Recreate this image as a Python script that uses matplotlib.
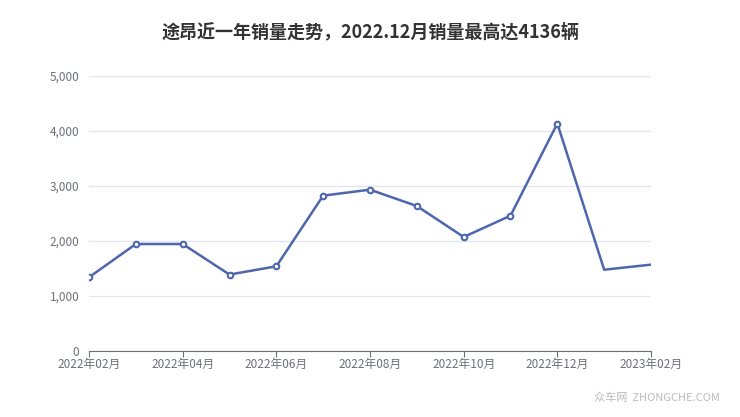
import matplotlib
matplotlib.use('Agg')
import matplotlib.pyplot as plt

plt.rcParams['font.family'] = ['Noto Sans CJK SC', 'DejaVu Sans']

months = ['2022年02月', '2022年03月', '2022年04月', '2022年05月', '2022年06月',
          '2022年07月', '2022年08月', '2022年09月', '2022年10月', '2022年11月',
          '2022年12月', '2023年01月', '2023年02月']
sales = [1340, 1945, 1945, 1390, 1540, 2825, 2933, 2636, 2073, 2460, 4136, 1478, 1570]
title = '途昂近一年销量走势，2022.12月销量最高达4136辆'

fig = plt.figure(figsize=(7.4, 4.17), dpi=100)
ax = fig.add_axes([89/740, 66/417, 562/740, 275/417])

x = list(range(len(months)))
ax.plot(x, sales, color='#4e66ad', lw=1.8, marker='o', ms=4,
        mfc='white', mec='#4e66ad', mew=1.5, markevery=list(range(11)),
        zorder=3)

ax.set_ylim(0, 5000)
ax.set_yticks(range(0, 5001, 1000))
ax.yaxis.set_major_formatter(matplotlib.ticker.FuncFormatter(lambda v, p: f'{int(v):,}'))
ax.set_xlim(x[0], x[-1])
ax.set_xticks(x[::2])
ax.set_xticklabels(months[::2])

ax.grid(axis='y', color='#e0e6f1', lw=0.9)
ax.set_axisbelow(True)
for s in ['top', 'right', 'left']:
    ax.spines[s].set_visible(False)
ax.spines['bottom'].set_color('#6e7079')
ax.tick_params(axis='y', length=0, labelsize=8.5, labelcolor='#6e7079', pad=7)
ax.tick_params(axis='x', length=4, color='#6e7079', labelsize=8.5,
               labelcolor='#6e7079', pad=1)

fig.text(0.5, 1 - 32/417, title, ha='center', va='center', fontsize=13,
         fontweight='bold', color='#333333')
fig.text(720/740, 1 - 398/417, '众车网  ZHONGCHE.COM', ha='right', va='center',
         fontsize=8, color='#bbbbbb')

fig.savefig('out.png', dpi=100)
